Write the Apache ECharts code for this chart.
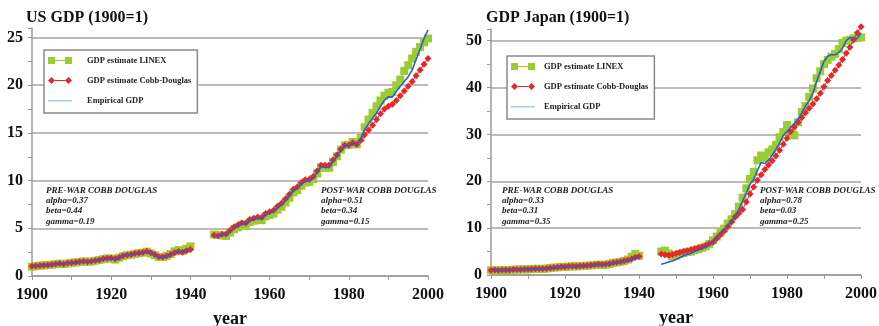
<!DOCTYPE html>
<html>
<head>
<meta charset="utf-8">
<script src="https://cdn.jsdelivr.net/npm/echarts@6/dist/echarts.min.js"></script>
<style>
  html, body { margin: 0; padding: 0; background: #fff; }
  #chart { width: 879px; height: 326px; }
</style>
</head>
<body>
<div id="chart"></div>
<script>
// Output indices, 1900 = 1. Pre-war series cover 1900-1940, post-war 1946-2000.
const PRE_START = 1900;
const POST_START = 1946;

// United States
const usEmpiricalPre = [1.00,1.05,1.08,1.12,1.13,1.18,1.26,1.29,1.22,1.33,
  1.37,1.41,1.47,1.52,1.46,1.50,1.62,1.66,1.78,1.83,
  1.86,1.76,1.90,2.10,2.16,2.22,2.34,2.38,2.42,2.58,
  2.40,2.22,1.98,1.93,2.08,2.24,2.48,2.60,2.50,2.66,2.82];
const usLinexPre = [0.98,1.04,1.09,1.11,1.15,1.19,1.24,1.30,1.25,1.31,
  1.38,1.42,1.46,1.53,1.49,1.52,1.60,1.68,1.76,1.84,
  1.82,1.72,1.92,2.08,2.18,2.24,2.32,2.40,2.45,2.55,
  2.36,2.18,2.00,1.98,2.12,2.30,2.58,2.72,2.64,2.86,3.10];
const usCobbPre = [1.02,1.06,1.10,1.13,1.16,1.20,1.27,1.31,1.26,1.35,
  1.39,1.43,1.49,1.54,1.50,1.54,1.63,1.69,1.80,1.86,
  1.88,1.80,1.93,2.12,2.19,2.26,2.37,2.42,2.47,2.60,
  2.44,2.26,2.03,1.98,2.10,2.25,2.45,2.58,2.50,2.64,2.78];
const usEmpiricalPost = [4.20,4.16,4.34,4.33,4.69,5.06,5.25,5.49,5.45,5.84,
  5.96,6.07,6.02,6.44,6.61,6.76,7.17,7.48,7.92,8.42,
  8.97,9.20,9.64,9.94,9.96,10.29,10.84,11.46,11.40,11.38,
  11.99,12.54,13.24,13.66,13.63,13.97,13.70,14.32,15.35,15.98,
  16.54,17.09,17.80,18.43,18.78,18.75,19.37,19.89,20.40,20.90,
  21.60,22.70,23.80,24.90,25.80];
const usLinexPost = [4.35,4.30,4.25,4.20,4.55,4.90,5.10,5.35,5.30,5.65,
  5.80,5.90,5.85,6.25,6.40,6.55,6.95,7.25,7.70,8.20,
  8.75,9.00,9.45,9.80,9.85,10.15,10.75,11.40,11.35,11.35,
  11.95,12.55,13.25,13.70,13.75,14.05,13.80,14.50,15.60,16.40,
  17.10,17.80,18.40,18.90,19.20,19.30,20.00,20.60,21.50,22.10,
  22.80,23.50,24.00,24.50,24.90];
const usCobbPost = [4.28,4.22,4.38,4.40,4.78,5.14,5.34,5.58,5.56,5.92,
  6.06,6.18,6.14,6.55,6.74,6.90,7.30,7.62,8.06,8.56,
  9.10,9.34,9.78,10.08,10.12,10.44,11.00,11.62,11.60,11.62,
  12.16,12.68,13.30,13.70,13.72,13.98,13.80,14.20,14.80,15.30,
  15.80,16.40,17.00,17.50,17.80,18.00,18.40,18.90,19.40,19.90,
  20.40,21.00,21.60,22.20,22.80];

// Japan
const jpEmpiricalPre = [1.00,1.04,0.99,1.04,1.05,1.05,1.13,1.17,1.18,1.19,
  1.21,1.26,1.30,1.32,1.31,1.38,1.50,1.57,1.62,1.76,
  1.72,1.82,1.83,1.84,1.89,1.96,1.98,2.04,2.17,2.22,
  2.18,2.21,2.37,2.58,2.64,2.74,2.94,3.10,3.30,3.70,3.85];
const jpLinexPre = [0.98,1.02,1.00,1.03,1.06,1.04,1.12,1.18,1.17,1.20,
  1.22,1.25,1.31,1.33,1.30,1.37,1.49,1.58,1.63,1.74,
  1.70,1.80,1.84,1.85,1.88,1.95,1.99,2.05,2.15,2.20,
  2.16,2.20,2.35,2.60,2.70,2.80,3.00,3.30,3.90,4.50,4.10];
const jpCobbPre = [1.02,1.05,1.02,1.06,1.07,1.08,1.15,1.19,1.20,1.22,
  1.24,1.29,1.33,1.35,1.34,1.41,1.52,1.59,1.65,1.78,
  1.76,1.85,1.87,1.88,1.93,2.00,2.03,2.09,2.21,2.27,
  2.24,2.28,2.42,2.62,2.70,2.82,3.02,3.18,3.42,3.80,3.95];
const jpEmpiricalPost = [2.30,2.50,2.80,3.00,3.30,3.70,4.10,4.40,4.60,5.00,
  5.30,5.70,6.00,6.30,7.20,8.10,8.80,9.60,10.70,11.30,
  12.60,14.00,15.80,17.50,19.40,20.40,22.30,24.00,23.80,24.50,
  25.60,26.80,28.20,29.80,30.60,31.50,32.40,33.30,34.60,36.10,
  37.20,38.80,41.30,43.40,45.60,46.70,47.00,47.00,47.50,48.40,
  50.00,50.70,50.40,50.50,51.60];
const jpLinexPost = [5.00,5.20,4.60,4.00,4.20,4.50,4.70,4.90,5.00,5.30,
  5.50,5.80,6.10,6.60,7.40,8.20,9.00,9.90,11.00,11.90,
  13.00,14.60,16.50,18.50,20.50,22.00,24.50,25.50,25.00,26.20,
  26.80,27.80,29.40,30.50,32.00,30.30,29.80,32.60,34.80,36.10,
  38.00,39.80,42.00,43.50,45.00,45.90,46.60,47.20,48.20,49.50,
  50.00,50.20,50.50,50.60,50.70];
const jpCobbPost = [4.50,4.30,4.20,4.40,4.60,4.80,5.00,5.20,5.40,5.60,
  5.80,6.00,6.30,6.70,7.00,7.80,8.60,9.40,10.30,11.30,
  12.40,13.20,14.00,15.60,17.30,18.80,20.20,21.40,22.50,23.50,
  24.40,25.40,26.60,27.90,29.20,30.60,31.60,32.60,33.60,34.60,
  35.60,36.50,37.60,38.80,40.20,41.50,42.60,43.70,44.80,46.00,
  47.30,48.60,50.20,51.70,53.00];

const NAME_LINEX = 'GDP estimate LINEX';
const NAME_COBB = 'GDP estimate Cobb-Douglas';
const NAME_EMP = 'Empirical GDP';

const SERIF = "'Times New Roman', 'Liberation Serif', 'DejaVu Serif', serif";
const GREEN = '#9acd32';
const RED = '#e8262b';
const BLUE = '#2b5fd0';
const LEGEND_BLUE = '#a9cde9';
const AXIS_GREY = '#9a9a9a';

// Legend keys: two markers joined by a short line, drawn in a 24x7 box
const ICON_SQUARES = 'path://M0,0H7V7H0Z M7,3H17V4H7Z M17,0H24V7H17Z';
const ICON_DIAMONDS = 'path://M3.5,0L7,3.5L3.5,7L0,3.5Z M7,3H17V4H7Z M20.5,0L24,3.5L20.5,7L17,3.5Z';
const ICON_LINE = 'path://M0,0H24V0.1H0Z M0,3H24V4.6H0Z M0,6.9H24V7H0Z';

// [year, value] pairs with a gap marker during the war years
function joinPeriods(pre, post) {
  const out = pre.map((v, i) => [PRE_START + i, v]);
  out.push([1943, '-']);
  post.forEach((v, i) => out.push([POST_START + i, v]));
  return out;
}

function estimateSeries(name, idx, pre, post, symbol, color, size, z) {
  return {
    name, type: 'line', xAxisIndex: idx, yAxisIndex: idx,
    data: joinPeriods(pre, post),
    symbol, symbolSize: size, showSymbol: true, clip: false,
    itemStyle: { color },
    lineStyle: { color, width: 1 },
    connectNulls: false, z
  };
}

function empiricalSeries(idx, pre, post) {
  return {
    name: NAME_EMP, type: 'line', xAxisIndex: idx, yAxisIndex: idx,
    data: joinPeriods(pre, post),
    symbol: 'none', clip: false,
    itemStyle: { color: BLUE },
    lineStyle: { color: BLUE, width: 1.6 },
    connectNulls: false, z: 5
  };
}

function xAxisFor(idx) {
  return {
    type: 'value', gridIndex: idx, min: 1900, max: 2000, interval: 20,
    axisLine: { show: true, lineStyle: { color: AXIS_GREY, width: 1.5 } },
    axisTick: { show: true, length: 4, lineStyle: { color: AXIS_GREY } },
    minorTick: { show: true, splitNumber: 2, length: 4, lineStyle: { color: AXIS_GREY } },
    splitLine: { show: false },
    axisLabel: {
      color: '#111', fontSize: 16, fontWeight: 'bold', fontFamily: SERIF, margin: 11,
      formatter: v => String(v)
    },
    name: 'year', nameLocation: 'middle', nameGap: 34,
    nameTextStyle: { color: '#111', fontSize: 18, fontWeight: 'bold', fontFamily: SERIF }
  };
}

function yAxisFor(idx, max, interval) {
  return {
    type: 'value', gridIndex: idx, min: 0, max, interval,
    axisLine: { show: true, lineStyle: { color: AXIS_GREY, width: 1.5 } },
    axisTick: { show: true, length: 4, lineStyle: { color: AXIS_GREY } },
    minorTick: { show: true, splitNumber: 2, length: 4, lineStyle: { color: AXIS_GREY } },
    splitLine: { show: true, showMaxLine: false, lineStyle: { color: '#a4a4a4', width: 1.6 } },
    axisLabel: {
      showMaxLabel: false,
      color: '#111', fontSize: 16, fontWeight: 'bold', fontFamily: SERIF, margin: 9,
      formatter: v => String(v)
    }
  };
}

function legendFor(left, top, textGap) {
  return {
    left, top, orient: 'vertical',
    backgroundColor: '#fff', borderColor: '#8a8a8a', borderWidth: 1.5,
    padding: [6, 6, 8, 4], itemGap: 11, itemWidth: 24, itemHeight: 7,
    textStyle: { fontSize: 8.5, fontWeight: 'bold', fontFamily: SERIF, color: '#222', padding: [0, 0, 0, textGap] },
    selectedMode: false,
    data: [
      { name: NAME_LINEX, icon: ICON_SQUARES },
      { name: NAME_COBB, icon: ICON_DIAMONDS },
      { name: NAME_EMP, icon: ICON_LINE, itemStyle: { color: LEGEND_BLUE } }
    ]
  };
}

function note(left, top, lines) {
  return {
    type: 'text', left, top, z: 100,
    style: {
      text: lines.join('\n'),
      fill: '#222',
      font: "italic bold 9px " + SERIF,
      lineHeight: 10.4
    }
  };
}

const chart = echarts.init(document.getElementById('chart'), null, { renderer: 'canvas' });

chart.setOption({
  animation: false,
  backgroundColor: '#fff',
  title: [
    { text: 'US GDP (1900=1)', left: 21, top: 5,
      textStyle: { fontSize: 16, fontWeight: 'bold', fontFamily: SERIF, color: '#111' } },
    { text: 'GDP Japan (1900=1)', left: 481, top: 5,
      textStyle: { fontSize: 16, fontWeight: 'bold', fontFamily: SERIF, color: '#111' } }
  ],
  grid: [
    { left: 32, right: 451, top: 28, bottom: 50, outerBoundsMode: 'none' },
    { left: 491, right: 18, top: 29, bottom: 51, outerBoundsMode: 'none' }
  ],
  xAxis: [xAxisFor(0), xAxisFor(1)],
  yAxis: [yAxisFor(0, 26, 5), yAxisFor(1, 52.5, 10)],
  legend: [legendFor(44, 50, 10), legendFor(507, 56, 4)],
  series: [
    estimateSeries(NAME_LINEX, 0, usLinexPre, usLinexPost, 'rect', GREEN, 8, 2),
    estimateSeries(NAME_COBB, 0, usCobbPre, usCobbPost, 'diamond', RED, 7, 3),
    empiricalSeries(0, usEmpiricalPre, usEmpiricalPost),
    estimateSeries(NAME_LINEX, 1, jpLinexPre, jpLinexPost, 'rect', GREEN, 8, 2),
    estimateSeries(NAME_COBB, 1, jpCobbPre, jpCobbPost, 'diamond', RED, 7, 3),
    empiricalSeries(1, jpEmpiricalPre, jpEmpiricalPost)
  ],
  graphic: [
    note(46, 185, ['PRE-WAR COBB DOUGLAS', 'alpha=0.37', 'beta=0.44', 'gamma=0.19']),
    note(321, 185, ['POST-WAR COBB DOUGLAS', 'alpha=0.51', 'beta=0.34', 'gamma=0.15']),
    note(502, 185, ['PRE-WAR COBB DOUGLAS', 'alpha=0.33', 'beta=0.31', 'gamma=0.35']),
    note(760, 185, ['POST-WAR COBB DOUGLAS', 'alpha=0.78', 'beta=0.03', 'gamma=0.25'])
  ]
});
</script>
</body>
</html>
